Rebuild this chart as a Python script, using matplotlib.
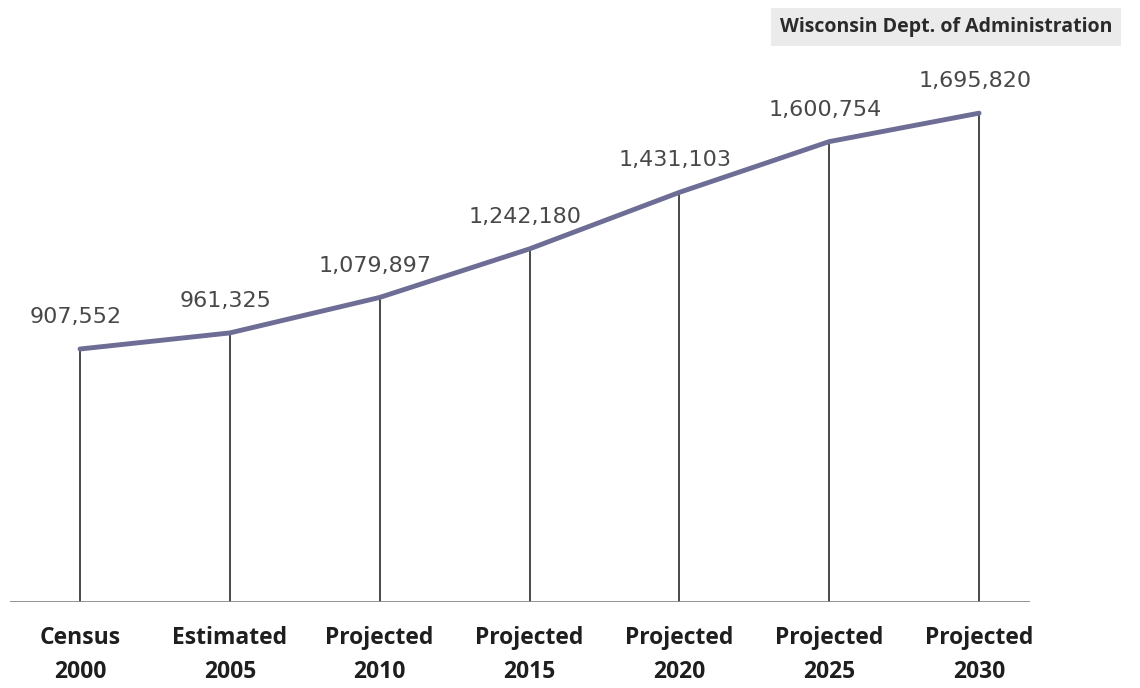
from matplotlib import pyplot as plt
import numpy as np

## 人口推計
labels = ["Census\n2000", "Estimated\n2005", "Projected\n2010", "Projected\n2015",
          "Projected\n2020", "Projected\n2025", "Projected\n2030"]
population = [907552, 961325, 1079897, 1242180, 1431103, 1600754, 1695820]
source = "Wisconsin Dept. of Administration"

x = np.arange(len(population))
y_bottom = 62000

fig = plt.figure(figsize=(11.4, 6.88), dpi=100)
ax = fig.add_axes([10 / 1140, 1 - 602 / 688, 1020 / 1140, 542 / 688])

ax.vlines(x, y_bottom, population, color="#3a3a3a", lw=1.3)
ax.plot(x, population, color="#6d6d96", lw=3.5, solid_capstyle="round")
ax.axhline(y_bottom, color="#8a8a8a", lw=1.3)

for xi, v in zip(x, population):
    ax.annotate(f"{v:,}", (xi, v), xytext=(-3, 23), textcoords="offset points",
                ha="center", va="center", fontsize=16, color="#484848",
                family="DejaVu Sans")

for xi, lab in zip(x, labels):
    ax.annotate(lab, (xi, y_bottom), xytext=(0, -17), textcoords="offset points",
                ha="center", va="top", fontsize=16.5, fontweight="bold",
                color="#1e1e1e", family="Open Sans", linespacing=1.6)

ax.set_xlim(-0.467, 6.34)
ax.set_ylim(y_bottom, 1873500)
ax.axis("off")

fig.text(1112 / 1140, 1 - 27 / 688, source, ha="right", va="center",
         fontsize=14, fontweight="bold", color="#2a2a2a", family="Open Sans",
         bbox=dict(boxstyle="square,pad=0.45", fc="#ebebeb", ec="none"))

fig.savefig("out.png", dpi=100)
